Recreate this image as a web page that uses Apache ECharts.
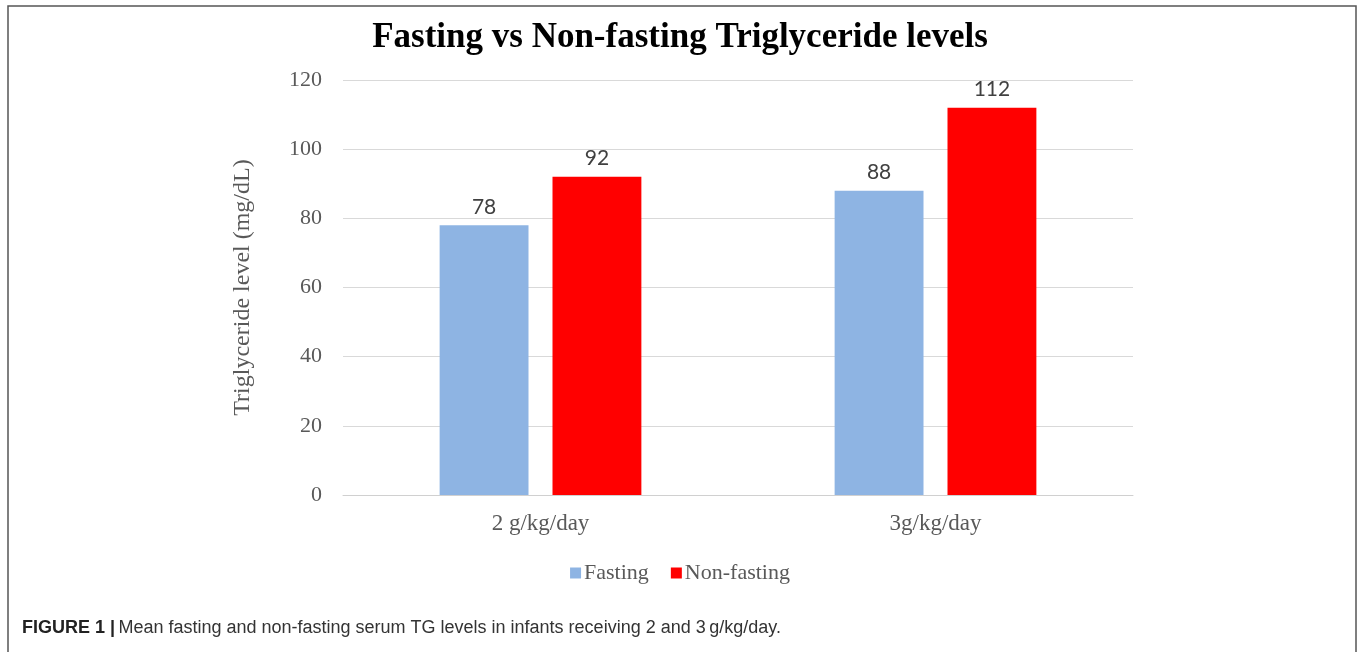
<!DOCTYPE html>
<html>
<head>
<meta charset="utf-8">
<script src="https://cdn.jsdelivr.net/npm/echarts@6/dist/echarts.min.js"></script>
<style>
  html, body { margin: 0; padding: 0; background: #fff; }
  #main { width: 1360px; height: 652px; }
</style>
</head>
<body>
<div id="main"></div>
<script>
// data
var categories = ['2 g/kg/day', '3g/kg/day'];
var fasting = [78, 88];
var nonFasting = [92, 112];
var yTicks = [0, 20, 40, 60, 80, 100, 120];

var serif = '"Liberation Serif", "DejaVu Serif", serif';
var chart = echarts.init(document.getElementById('main'));

chart.setOption({
  backgroundColor: '#fff',
  animation: false,
  title: {
    text: 'Fasting vs Non-fasting Triglyceride levels',
    left: 'center',
    top: 15,
    textStyle: { fontFamily: serif, fontSize: 35, fontWeight: 'bold', color: '#000' }
  },
  grid: { left: 343, right: 227, top: 80, bottom: 157 },
  legend: {
    data: ['Fasting', 'Non-fasting'],
    left: 'center',
    top: 557,
    itemWidth: 11,
    itemHeight: 11,
    itemGap: 22,
    icon: 'rect',
    textStyle: { fontFamily: serif, fontSize: 22, color: '#595959', padding: [0, 0, 0, -2] }
  },
  xAxis: {
    type: 'category',
    data: categories,
    axisLine: { lineStyle: { color: '#d0d0d0', width: 1 } },
    axisTick: { show: false },
    axisLabel: { fontFamily: serif, fontSize: 23, color: '#595959', margin: 17 }
  },
  yAxis: {
    type: 'value',
    min: yTicks[0],
    max: yTicks[yTicks.length - 1],
    interval: 20,
    name: 'Triglyceride level (mg/dL)',
    nameLocation: 'middle',
    nameGap: 88,
    nameTextStyle: { fontFamily: serif, fontSize: 24, color: '#595959' },
    axisLine: { show: false },
    axisTick: { show: false },
    axisLabel: { fontFamily: serif, fontSize: 22, color: '#595959', margin: 21, padding: [4, 0, 0, 0] },
    splitLine: { lineStyle: { color: '#d9d9d9', width: 1 } }
  },
  series: [
    {
      name: 'Fasting',
      type: 'bar',
      data: fasting,
      barWidth: '22.5%',
      barGap: '27%',
      itemStyle: { color: '#8eb4e3' },
      label: { show: true, position: 'top', distance: 8, fontFamily: 'Lato, "Open Sans", sans-serif', fontSize: 21, color: '#404040' }
    },
    {
      name: 'Non-fasting',
      type: 'bar',
      data: nonFasting,
      barWidth: '22.5%',
      itemStyle: { color: '#ff0000' },
      label: { show: true, position: 'top', distance: 8, fontFamily: 'Lato, "Open Sans", sans-serif', fontSize: 21, color: '#404040' }
    }
  ],
  graphic: [
    {
      type: 'rect',
      shape: { x: 8, y: 6, width: 1348, height: 660 },
      style: { fill: 'none', stroke: '#555', lineWidth: 1.5 },
      silent: true
    },
    {
      type: 'text',
      left: 22,
      top: 619,
      style: {
        text: '{b|FIGURE 1 |} {n|Mean fasting and non-fasting serum TG levels in infants receiving 2 and 3\u2009g/kg/day.}',
        rich: {
          b: { fontFamily: '"Liberation Sans", Arial, sans-serif', fontSize: 18, fontWeight: 'bold', fill: '#222' },
          n: { fontFamily: '"Liberation Sans", Arial, sans-serif', fontSize: 18, fill: '#333' }
        }
      }
    }
  ]
});
</script>
</body>
</html>
